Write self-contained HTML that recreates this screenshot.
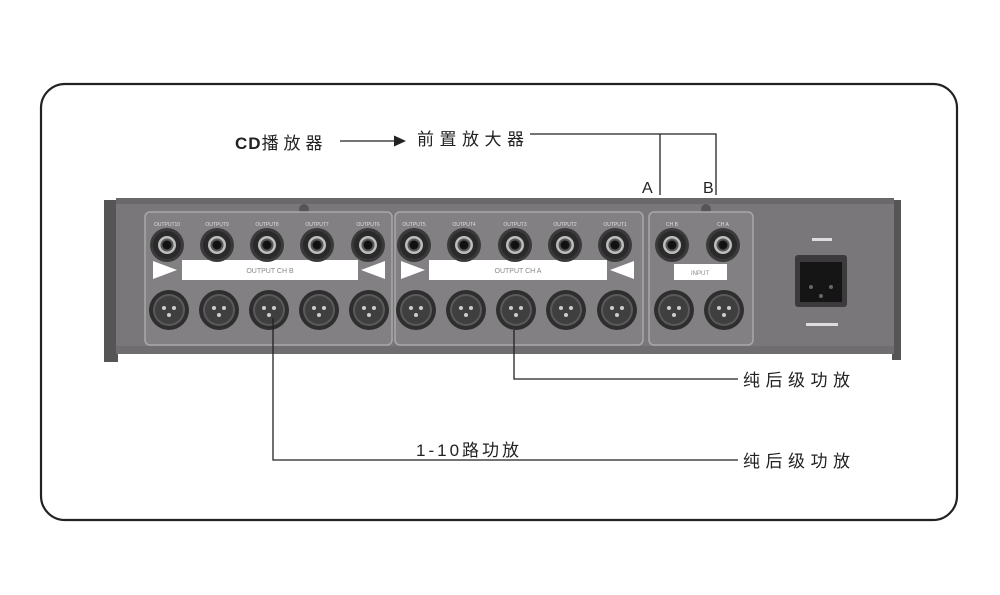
<!DOCTYPE html>
<html><head><meta charset="utf-8"><style>
html,body{margin:0;padding:0;background:#fff;width:1000px;height:595px;overflow:hidden}
svg{display:block}
text{font-family:"Liberation Sans","Noto Sans CJK SC",sans-serif;fill:#222}
</style></head><body>
<svg width="1000" height="595" viewBox="0 0 1000 595" xmlns="http://www.w3.org/2000/svg">
<defs>
<g id="jack"><circle r="17" fill="#3a3a3a"/><circle r="14" fill="#2a2a2a"/><circle r="9" fill="#bdbdbd"/><circle r="6.5" fill="#555"/><circle r="4.5" fill="#111"/></g>
<g id="xlr"><circle r="20" fill="#2e2e2e"/><circle r="16" fill="#5a5a5a"/><circle r="14" fill="#3f3f3f"/><circle cx="-5" cy="-2" r="2" fill="#ccc"/><circle cx="5" cy="-2" r="2" fill="#ccc"/><circle cx="0" cy="5" r="2" fill="#ccc"/></g>
</defs>
<rect x="41" y="84" width="916" height="436" rx="24" fill="#fff" stroke="#222" stroke-width="2.2"/>
<!-- chassis -->
<rect x="104" y="200" width="14" height="162" fill="#555"/>
<rect x="892" y="200" width="9" height="160" fill="#555"/>
<rect x="116" y="198" width="778" height="156" fill="#7a777b"/>
<rect x="116" y="198" width="778" height="6" fill="#6a686b"/>
<rect x="116" y="346" width="778" height="8" fill="#6f6d70"/>
<circle cx="304" cy="209" r="5" fill="#555"/><circle cx="706" cy="209" r="5" fill="#555"/>
<!-- group boxes -->
<rect x="145" y="212" width="247" height="133" rx="5" fill="#838084" stroke="#a9a7aa" stroke-width="1.5"/>
<rect x="395" y="212" width="248" height="133" rx="5" fill="#838084" stroke="#a9a7aa" stroke-width="1.5"/>
<rect x="649" y="212" width="104" height="133" rx="5" fill="#838084" stroke="#a9a7aa" stroke-width="1.5"/>
<!-- labels strips -->
<polygon points="153,261 153,279 177,270" fill="#fff"/>
<rect x="182" y="260" width="176" height="20" fill="#fff"/>
<polygon points="385,261 385,279 361,270" fill="#fff"/>
<text x="270" y="273" font-size="7" text-anchor="middle" style="fill:#888">OUTPUT CH B</text>
<polygon points="401,261 401,279 425,270" fill="#fff"/>
<rect x="429" y="260" width="178" height="20" fill="#fff"/>
<polygon points="634,261 634,279 610,270" fill="#fff"/>
<text x="518" y="273" font-size="7" text-anchor="middle" style="fill:#888">OUTPUT CH A</text>
<rect x="674" y="264" width="53" height="16" fill="#fff"/>
<text x="700" y="275" font-size="6" text-anchor="middle" style="fill:#888">INPUT</text>
<!-- jacks -->
<g font-size="5" text-anchor="middle">
<text x="167" y="226" style="fill:#ddd">OUTPUT10</text><text x="217" y="226" style="fill:#ddd">OUTPUT9</text><text x="267" y="226" style="fill:#ddd">OUTPUT8</text><text x="317" y="226" style="fill:#ddd">OUTPUT7</text><text x="368" y="226" style="fill:#ddd">OUTPUT6</text>
<text x="414" y="226" style="fill:#ddd">OUTPUT5</text><text x="464" y="226" style="fill:#ddd">OUTPUT4</text><text x="515" y="226" style="fill:#ddd">OUTPUT3</text><text x="565" y="226" style="fill:#ddd">OUTPUT2</text><text x="615" y="226" style="fill:#ddd">OUTPUT1</text>
<text x="672" y="226" style="fill:#ddd">CH B</text><text x="723" y="226" style="fill:#ddd">CH A</text>
</g>
<use href="#jack" x="167" y="245"/><use href="#jack" x="217" y="245"/><use href="#jack" x="267" y="245"/><use href="#jack" x="317" y="245"/><use href="#jack" x="368" y="245"/>
<use href="#jack" x="414" y="245"/><use href="#jack" x="464" y="245"/><use href="#jack" x="515" y="245"/><use href="#jack" x="565" y="245"/><use href="#jack" x="615" y="245"/>
<use href="#jack" x="672" y="245"/><use href="#jack" x="723" y="245"/>
<use href="#xlr" x="169" y="310"/><use href="#xlr" x="219" y="310"/><use href="#xlr" x="269" y="310"/><use href="#xlr" x="319" y="310"/><use href="#xlr" x="369" y="310"/>
<use href="#xlr" x="416" y="310"/><use href="#xlr" x="466" y="310"/><use href="#xlr" x="516" y="310"/><use href="#xlr" x="566" y="310"/><use href="#xlr" x="617" y="310"/>
<use href="#xlr" x="674" y="310"/><use href="#xlr" x="724" y="310"/>
<!-- power -->
<rect x="795" y="255" width="52" height="52" rx="3" fill="#3c3a3d"/>
<rect x="800" y="262" width="42" height="40" fill="#151515"/>
<circle cx="811" cy="287" r="2" fill="#666"/><circle cx="831" cy="287" r="2" fill="#666"/><circle cx="821" cy="296" r="2" fill="#666"/>
<rect x="812" y="238" width="20" height="3" fill="#ddd"/>
<rect x="806" y="323" width="32" height="3" fill="#ddd"/>
<!-- connectors -->
<g stroke="#222" stroke-width="1.3" fill="none">
<line x1="340" y1="141" x2="396" y2="141"/>
<polyline points="530,134 716,134 716,195"/>
<line x1="660" y1="134" x2="660" y2="195"/>
<polyline points="273,318 273,460 738,460"/>
<polyline points="514,330 514,379 738,379"/>
</g>
<polygon points="394,135.5 406,141 394,146.5" fill="#222"/>
<text x="235" y="149" font-size="17" style="font-weight:bold" letter-spacing="1">CD<tspan font-weight="normal" letter-spacing="5">播放器</tspan></text>
<text x="417" y="145" font-size="17" letter-spacing="5.5">前置放大器</text>
<text x="642" y="193" font-size="16">A</text>
<text x="703" y="193" font-size="16">B</text>
<text x="743" y="386" font-size="17" letter-spacing="5.5">纯后级功放</text>
<text x="743" y="467" font-size="17" letter-spacing="5.5">纯后级功放</text>
<text x="416" y="456" font-size="17" letter-spacing="3">1-10路功放</text>
</svg>
</body></html>
